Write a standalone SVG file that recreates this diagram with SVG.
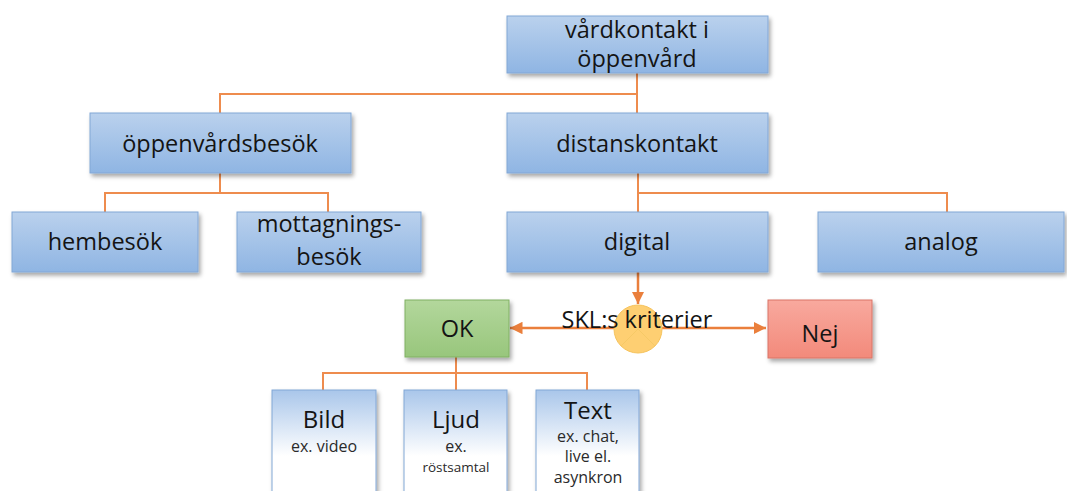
<svg xmlns="http://www.w3.org/2000/svg" width="1067" height="491" viewBox="0 0 1067 491">
<defs>
<linearGradient id="gb" x1="0" y1="0" x2="0" y2="1"><stop offset="0" stop-color="#bad1ed"/><stop offset="1" stop-color="#8fb5e3"/></linearGradient>
<linearGradient id="gw" x1="0" y1="0" x2="0" y2="1"><stop offset="0" stop-color="#a9c6ea"/><stop offset="0.6" stop-color="#ffffff"/><stop offset="1" stop-color="#ffffff"/></linearGradient>
<linearGradient id="gg" x1="0" y1="0" x2="0" y2="1"><stop offset="0" stop-color="#b3d79c"/><stop offset="1" stop-color="#98c67c"/></linearGradient>
<linearGradient id="gr" x1="0" y1="0" x2="0" y2="1"><stop offset="0" stop-color="#f8a99e"/><stop offset="1" stop-color="#f38a7b"/></linearGradient>
<filter id="sh" x="-10%" y="-10%" width="130%" height="140%"><feDropShadow dx="2" dy="3" stdDeviation="2" flood-color="#000" flood-opacity="0.35"/></filter>
<marker id="ah" viewBox="0 0 10 10" refX="10" refY="5" markerWidth="5" markerHeight="5" orient="auto-start-reverse"><path d="M0,0 L10,5 L0,10 z" fill="#ea7f3c"/></marker>
</defs>
<style>
.b{fill:url(#gb);stroke:#82a7d6;stroke-width:1;filter:url(#sh)}
.w{fill:url(#gw);stroke:#82a7d6;stroke-width:1;filter:url(#sh)}
.t{font-family:"Open Sans","Liberation Sans",sans-serif;fill:#141414;text-anchor:middle}
.l{font-size:23.5px}
.s{font-size:16px;fill:#2a2a2a}
.c{fill:none;stroke:#ee8c4e;stroke-width:2}
.a{fill:none;stroke:#ea7f3c;stroke-width:2.5}
</style>
<g id="connectors">
<path class="c" d="M637,73 V94 H220 V113 M637,94 V113"/>
<path class="c" d="M220,173 V193 H105 V212 M220,193 H328 V212"/>
<path class="c" d="M638,173 V193 H947 V212 M638,193 V212"/>
<path class="c" d="M456,357 V373 H323 V390 M456,373 H587 V390 M456,373 V390"/>
<path class="a" d="M638,272 V304" marker-end="url(#ah)"/>
<path class="a" d="M615,328 H510" marker-end="url(#ah)"/>
<path class="a" d="M661,328 H766" marker-end="url(#ah)"/>
</g>
<g id="n-top"><rect class="b" x="507" y="16" width="261" height="57"/><text class="t l" x="637" y="38">vårdkontakt i</text><text class="t l" x="637" y="67">öppenvård</text></g>
<g id="n-oppen"><rect class="b" x="90" y="113" width="261" height="60"/><text class="t l" x="220" y="152">öppenvårdsbesök</text></g>
<g id="n-distans"><rect class="b" x="507" y="113" width="261" height="60"/><text class="t l" x="637" y="152">distanskontakt</text></g>
<g id="n-hem"><rect class="b" x="12" y="212" width="186" height="60"/><text class="t l" x="105" y="250">hembesök</text></g>
<g id="n-mott"><rect class="b" x="237" y="212" width="184" height="60"/><text class="t l" x="329" y="232">mottagnings-</text><text class="t l" x="329" y="265">besök</text></g>
<g id="n-digital"><rect class="b" x="507" y="212" width="261" height="60"/><text class="t l" x="637" y="250">digital</text></g>
<g id="n-analog"><rect class="b" x="818" y="212" width="246" height="60"/><text class="t l" x="941" y="250">analog</text></g>
<g id="n-skl"><circle cx="638" cy="329" r="24" fill="#fecf72" stroke="#f6c35c" stroke-width="1"/><path d="M638,329 L621,346 M638,329 L655,346" stroke="#f6c966" stroke-width="1" fill="none"/><text class="t l" x="637" y="328">SKL:s kriterier</text></g>
<g id="n-ok"><rect x="405" y="300" width="104" height="57" fill="url(#gg)" stroke="#80b062" stroke-width="1" filter="url(#sh)"/><text class="t l" x="457" y="337">OK</text></g>
<g id="n-nej"><rect x="768" y="300" width="104" height="58" fill="url(#gr)" stroke="#d97466" stroke-width="1" filter="url(#sh)"/><text class="t l" x="820" y="342">Nej</text></g>
<g id="n-bild"><rect class="w" x="272" y="390" width="104" height="110"/><text class="t" x="324" y="428" font-size="24">Bild</text><text class="t s" x="324" y="452">ex. video</text></g>
<g id="n-ljud"><rect class="w" x="404" y="390" width="103" height="110"/><text class="t" x="456" y="428" font-size="24">Ljud</text><text class="t s" x="456" y="452" font-size="14">ex.</text><text class="t s" x="456" y="472" style="font-size:13.5px">röstsamtal</text></g>
<g id="n-text"><rect class="w" x="536" y="390" width="103" height="110"/><text class="t" x="588" y="419" font-size="24">Text</text><text class="t s" x="588" y="442">ex. chat,</text><text class="t s" x="588" y="462">live el.</text><text class="t s" x="588" y="483">asynkron</text></g>
</svg>
